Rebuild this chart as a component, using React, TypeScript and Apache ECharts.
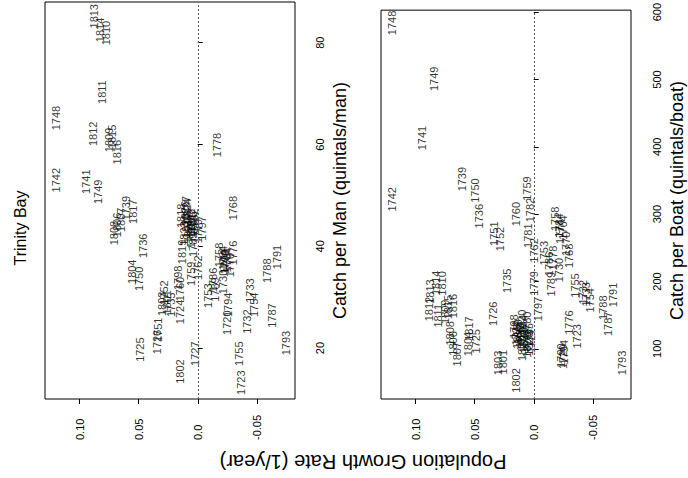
import React, { useEffect, useRef } from "react";
import * as echarts from "echarts";

const years = [
  1720, 1723, 1724, 1725, 1726, 1727, 1730, 1732, 1733, 1735, 1736, 1739, 1741, 1742, 1748, 1749, 1750,
  1751, 1752, 1753, 1754, 1755, 1758, 1759, 1760, 1762, 1764, 1768, 1770, 1774, 1776, 1778, 1779, 1780,
  1781, 1782, 1784, 1785, 1786, 1787, 1788, 1789, 1790, 1791, 1793, 1794, 1797, 1798, 1801, 1802, 1803,
  1804, 1806, 1807, 1808, 1809, 1810, 1811, 1812, 1813, 1814, 1815, 1816, 1817, 1818, 1819, 1820, 1821,
  1822, 1823, 1824, 1825, 1826, 1827,
];
const growthRate = [
  -0.025, -0.0365, 0.015, 0.0487, 0.0345, 0.002, -0.021, -0.042, -0.044, 0.0225, 0.0465, 0.0605, 0.095, 0.12, 0.12, 0.0845, 0.05,
  0.034, 0.029, -0.009, -0.048, -0.035, -0.0183, 0.006, 0.015, -0.0005, -0.025, -0.0295, -0.027, -0.0226, -0.03, -0.016, 0.0, 0.006,
  0.005, 0.003, -0.021, 0.004, -0.013, -0.063, -0.059, -0.015, -0.023, -0.067, -0.0745, -0.0255, -0.004, 0.0165, 0.026, 0.015, 0.03,
  0.0554, 0.068, 0.065, 0.071, 0.075, 0.078, 0.081, 0.089, 0.088, 0.083, 0.073, 0.068, 0.0545, 0.014, 0.013, 0.01, 0.008,
  0.006, 0.012, 0.009, 0.004, 0.011, 0.01,
];
const catchPerMan = [
  25.0, 13.2, 27.1, 19.7, 21.2, 18.9, 33.0, 25.2, 31.3, 28.5, 40.1, 47.5, 52.7, 53.0, 65.2, 50.7, 33.6,
  23.6, 30.9, 30.3, 28.5, 18.9, 38.3, 34.6, 31.6, 35.8, 37.3, 47.5, 36.3, 36.9, 38.7, 59.9, 43.0, 42.0,
  44.0, 45.0, 37.7, 40.3, 33.4, 26.4, 35.2, 31.5, 37.0, 37.9, 21.0, 28.5, 43.5, 33.8, 29.0, 15.4, 28.7,
  35.0, 44.2, 45.2, 42.6, 60.9, 81.9, 70.3, 62.1, 85.2, 82.5, 61.5, 58.5, 46.8, 46.0, 38.9, 44.0, 43.0,
  45.0, 42.5, 47.0, 44.5, 46.5, 47.5,
];
const catchPerBoat = [
  88, 118.5, 123, 111, 152, 112, 217, 184, 181, 201, 297, 352, 413, 322, 584, 501, 335,
  271, 263, 242, 172, 194, 293, 338, 300, 246, 280, 238, 256, 274, 139, 235, 197, 137,
  268, 306, 283, 120, 226, 137, 161, 196, 90, 180, 79, 95, 159, 133, 80, 53, 79,
  107, 108, 92, 123, 155, 197, 149, 159, 185, 198, 162, 163.5, 130, 118, 126, 140, 112,
  105, 120, 132, 108, 115, 100,
];

const growthTicks = [0.1, 0.05, 0, -0.05];
const growthTickLabels = ["0.10", "0.05", "0.0", "-0.05"];
const manTicks = [20, 40, 60, 80];
const boatTicks = [100, 200, 300, 400, 500, 600];

const FONT = "'Liberation Sans', Arial, Helvetica, sans-serif";

function growthLabel(v: number): string {
  for (let i = 0; i < growthTicks.length; i++) {
    if (Math.abs(v - growthTicks[i]) < 1e-9) return growthTickLabels[i];
  }
  return "";
}

export default function App() {
  const ref = useRef<HTMLDivElement>(null);

  useEffect(() => {
    if (!ref.current) return;
    const chart = echarts.init(ref.current, undefined, { renderer: "svg" });

    const manData = years.map((y, i) => [growthRate[i], catchPerMan[i], y]);
    const boatData = years.map((y, i) => [growthRate[i], catchPerBoat[i], y]);

    const xAxisBase = (gridIndex: number) => ({
      type: "value" as const,
      gridIndex,
      inverse: true,
      min: -0.0823,
      max: 0.1293,
      axisLine: { show: false },
      splitLine: { show: false },
      axisTick: {
        show: true,
        length: 5,
        customValues: growthTicks,
        lineStyle: { color: "#000", width: 1 },
      },
      axisLabel: {
        show: true,
        customValues: growthTicks,
        formatter: (v: number) => growthLabel(v),
        rotate: 90,
        align: "left",
        verticalAlign: "middle",
        margin: 41,
        fontSize: 11,
        color: "#000",
        fontFamily: FONT,
      },
    });

    const yAxisBase = (gridIndex: number, min: number, max: number, ticks: number[], margin: number) => ({
      type: "value" as const,
      gridIndex,
      position: "right" as const,
      min,
      max,
      axisLine: { show: false },
      splitLine: { show: false },
      axisTick: {
        show: true,
        length: 5,
        customValues: ticks,
        lineStyle: { color: "#000", width: 1 },
      },
      axisLabel: {
        show: true,
        customValues: ticks,
        rotate: 90,
        align: "center",
        verticalAlign: "middle",
        margin,
        fontSize: 11,
        color: "#000",
        fontFamily: FONT,
      },
    });

    const labelSeries = (idx: number, data: number[][]) => ({
      type: "scatter" as const,
      xAxisIndex: idx,
      yAxisIndex: idx,
      data,
      symbolSize: 1,
      itemStyle: { color: "rgba(0,0,0,0)" },
      label: {
        show: true,
        position: "inside",
        rotate: 90,
        formatter: (p: any) => String(p.value[2]),
        fontSize: 11,
        color: "#000",
        fontFamily: FONT,
        align: "center",
        verticalAlign: "middle",
      },
      labelLayout: { hideOverlap: false },
      markLine: {
        silent: true,
        symbol: ["none", "none"],
        label: { show: false },
        lineStyle: { type: [2, 2], color: "#555", width: 1 },
        data: [{ xAxis: 0 }],
      },
    });

    chart.setOption({
      animation: false,
      backgroundColor: "#fff",
      grid: [
        { left: 45, top: 2, width: 250, height: 397, show: true, borderColor: "#000", borderWidth: 1, backgroundColor: "transparent" },
        { left: 381, top: 2, width: 250, height: 397, show: true, borderColor: "#000", borderWidth: 1, backgroundColor: "transparent" },
      ],
      xAxis: [xAxisBase(0), xAxisBase(1)],
      yAxis: [
        yAxisBase(0, 10, 88, manTicks, 25),
        yAxisBase(1, 25.4, 603, boatTicks, 26),
      ],
      series: [labelSeries(0, manData), labelSeries(1, boatData)],
      graphic: [
        {
          type: "text",
          x: 20,
          y: 228,
          rotation: Math.PI / 2,
          style: { text: "Trinity Bay", fontSize: 16, fill: "#000", align: "center", verticalAlign: "middle", fontFamily: FONT },
        },
        {
          type: "text",
          x: 340,
          y: 200.5,
          rotation: Math.PI / 2,
          style: { text: "Catch per Man (quintals/man)", fontSize: 18, fill: "#000", align: "center", verticalAlign: "middle", fontFamily: FONT },
        },
        {
          type: "text",
          x: 677,
          y: 200.5,
          rotation: Math.PI / 2,
          style: { text: "Catch per Boat (quintals/boat)", fontSize: 18, fill: "#000", align: "center", verticalAlign: "middle", fontFamily: FONT },
        },
        {
          type: "text",
          x: 363,
          y: 462,
          rotation: Math.PI,
          style: { text: "Population Growth Rate (1/year)", fontSize: 20, fill: "#000", align: "center", verticalAlign: "middle", fontFamily: FONT },
        },
      ],
    });

    return () => {
      chart.dispose();
    };
  }, []);

  return (
    <div
      ref={ref}
      style={{ position: "fixed", left: 0, top: 0, width: 688, height: 478, background: "#fff" }}
    />
  );
}
